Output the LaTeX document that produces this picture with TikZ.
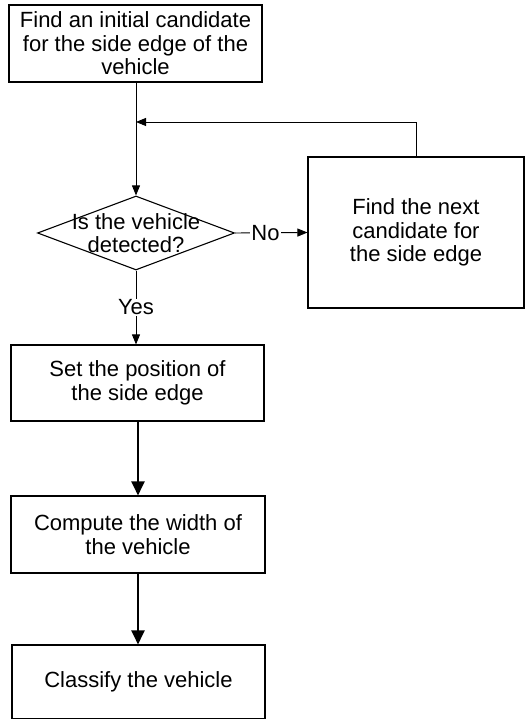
\documentclass[tikz,border=0pt]{standalone}
\usepackage{fontspec}
\setmainfont{Liberation Sans}
\usetikzlibrary{arrows.meta, shapes.geometric, positioning, calc}

\begin{document}
\begin{tikzpicture}[x=1pt, y=1pt,
    procbox/.style={rectangle, draw, line width=1.1pt, align=center,
                    inner sep=2pt, font=\fontsize{22}{23.5}\selectfont},
    decision/.style={diamond, draw, line width=1.1pt, inner sep=0pt,
                     minimum width=197, minimum height=74},
    thinarrow/.style={-{Triangle[length=10pt, width=8pt]}, line width=0.9pt},
    thickarrow/.style={-{Triangle[length=14pt, width=13pt]}, line width=2.4pt},
    lbl/.style={fill=white, inner sep=1pt, font=\fontsize{22}{23.5}\selectfont}]

    \useasboundingbox (0,0) rectangle (527,719);

    % Main boxes
    \node[procbox, minimum width=253, minimum height=77] (init) at (135.5,675.5)
        {Find an initial candidate\\for the side edge of the\\vehicle};
    \node[decision, label={[align=center, font=\fontsize{22}{23.5}\selectfont]center:Is the vehicle\\detected?}]
        (detect) at (136,486) {};
    \node[procbox, minimum width=216, minimum height=151] (next) at (416,486.5)
        {Find the next\\candidate for\\the side edge};
    \node[procbox, minimum width=253, minimum height=76] (setpos) at (137.5,336)
        {Set the position of\\the side edge};
    \node[procbox, minimum width=254, minimum height=77] (width) at (138,184.5)
        {Compute the width of\\the vehicle};
    \node[procbox, minimum width=253, minimum height=74] (classify) at (138.5,37)
        {Classify the vehicle};

    % Loop junction
    \coordinate (join) at (136,597);

    % Arrows
    \draw[thinarrow] (init.south -| detect) -- (detect.north);
    \draw[thinarrow] (next.north) |- (join);
    \draw[thinarrow] (detect.east) -- (next.west) node[lbl, pos=0.42] {No};
    \draw[thinarrow] (detect.south) -- (setpos.north -| detect) node[lbl, midway] {Yes};
    \draw[thickarrow] (setpos.south -| width) -- (width.north);
    \draw[thickarrow] (width.south) -- (classify.north -| width);

\end{tikzpicture}
\end{document}
